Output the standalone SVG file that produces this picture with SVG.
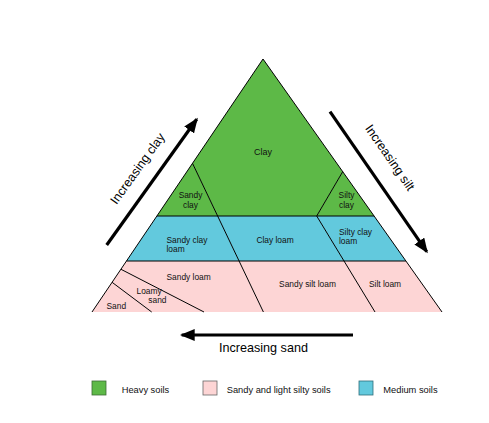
<svg xmlns="http://www.w3.org/2000/svg" width="489" height="423" viewBox="0 0 489 423">
<defs>
<style>
.g{fill:#5DB947}.b{fill:#62C9DD}.p{fill:#FDD5D5}
.ln{stroke:#000;stroke-width:1;fill:none}
.t{font-family:"Liberation Sans",Arial,sans-serif;font-size:8.4px;fill:#111}
.c{text-anchor:middle}
.big{font-family:"Liberation Sans",Arial,sans-serif;font-size:12.6px;fill:#000}
.lg{font-family:"Liberation Sans",Arial,sans-serif;font-size:9.3px;fill:#111}
.ar{stroke:#000;stroke-width:3.2;fill:none}
</style>
<marker id="ah" viewBox="0 0 15 12" refX="13" refY="6" markerWidth="15" markerHeight="12" markerUnits="userSpaceOnUse" orient="auto">
<path d="M0,0 L15,6 L0,12 Z" fill="#000"/>
</marker>
</defs>
<rect width="489" height="423" fill="#fff"/>
<g id="clay"><polygon class="g" points="263,59 342.7,171.7 316.7,216 217.6,216 192.5,163.3"/><text class="t c" x="263" y="155" style="font-size:9px">Clay</text></g>
<g id="sandy-clay"><polygon class="g" points="192.5,163.3 217.6,216 156.9,216"/><text class="t c" x="190.5" y="198">Sandy</text><text class="t c" x="190.5" y="207.5">clay</text></g>
<g id="silty-clay"><polygon class="g" points="342.7,171.7 374.1,216 316.7,216"/><text class="t c" x="346.5" y="198">Silty</text><text class="t c" x="346.5" y="207.5">clay</text></g>
<g id="sandy-clay-loam"><polygon class="b" points="156.9,216 217.6,216 239.1,261 126.5,261"/><text class="t" x="166.5" y="242.5">Sandy clay</text><text class="t" x="166.5" y="251.5">loam</text></g>
<g id="clay-loam"><polygon class="b" points="217.6,216 316.7,216 344,261 239.1,261"/><text class="t c" x="275" y="243">Clay loam</text></g>
<g id="silty-clay-loam"><polygon class="b" points="316.7,216 374.1,216 405.9,261 344,261"/><text class="t" x="339" y="235">Silty clay</text><text class="t" x="339" y="244">loam</text></g>
<g id="sandy-loam"><polygon class="p" points="126.5,261 239.1,261 263.4,312 204,312 121,269.3"/><text class="t" x="166.5" y="280">Sandy loam</text></g>
<g id="loamy-sand"><polygon class="p" points="121,269.3 204,312 151.7,312 112.1,282.3"/><text class="t" x="136.5" y="294">Loamy</text><text class="t" x="148.3" y="303.3">sand</text></g>
<g id="sand"><polygon class="p" points="112.1,282.3 151.7,312 92,312"/><text class="t" x="106.5" y="309.3">Sand</text></g>
<g id="sandy-silt-loam"><polygon class="p" points="239.1,261 344,261 375,312 263.4,312"/><text class="t c" x="307.5" y="286.7">Sandy silt loam</text></g>
<g id="silt-loam"><polygon class="p" points="344,261 405.9,261 442,312 375,312"/><text class="t c" x="385" y="286.7">Silt loam</text></g>
<g id="connectors">
<polyline class="ln" points="92,312 263,59 442,312"/>
<line class="ln" x1="156.9" y1="216" x2="374.1" y2="216"/>
<line class="ln" x1="126.5" y1="261" x2="405.9" y2="261"/>
<line class="ln" x1="192.5" y1="163.3" x2="263.4" y2="312"/>
<polyline class="ln" points="342.7,171.7 316.7,216 375,312"/>
<line class="ln" x1="121" y1="269.3" x2="204" y2="312"/>
<line class="ln" x1="112.1" y1="282.3" x2="151.7" y2="312"/>
<line class="ar" x1="106.7" y1="245" x2="196.7" y2="119.3" marker-end="url(#ah)"/>
<line class="ar" x1="330" y1="111.7" x2="426.7" y2="251.7" marker-end="url(#ah)"/>
<line class="ar" x1="353" y1="335" x2="181.7" y2="335" marker-end="url(#ah)"/>
</g>
<text class="big" text-anchor="middle" transform="translate(141,171) rotate(-54.4)">Increasing clay</text>
<text class="big" text-anchor="middle" transform="translate(386.5,160) rotate(55.4)">Increasing silt</text>
<text class="big" x="219" y="351.5">Increasing sand</text>
<g id="legend">
<rect x="92" y="381" width="14" height="14" class="g" stroke="#3d6b35" stroke-width="0.8"/>
<text class="lg" x="121.7" y="393">Heavy soils</text>
<rect x="203" y="381" width="14" height="14" class="p" stroke="#666" stroke-width="0.8"/>
<text class="lg" x="226.7" y="393">Sandy and light silty soils</text>
<rect x="359" y="381" width="14" height="14" class="b" stroke="#2f6e7a" stroke-width="0.8"/>
<text class="lg" x="383.3" y="393">Medium soils</text>
</g>
</svg>
